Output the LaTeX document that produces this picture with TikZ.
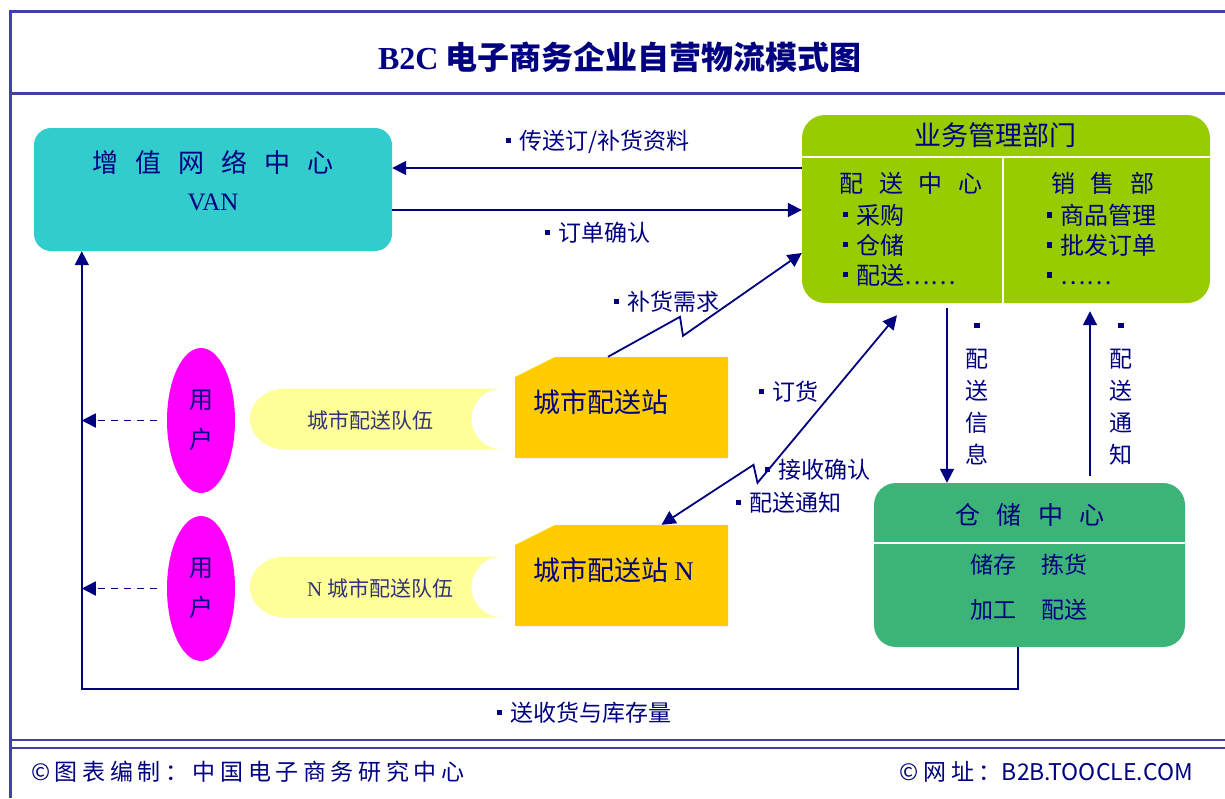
\documentclass[tikz,border=0pt]{standalone}
\usepackage{fontspec}
\usepackage{tikz}
\usetikzlibrary{positioning, arrows.meta, shapes.geometric}
\setmainfont{Liberation Serif}
\newfontfamily\cjk{Noto Sans CJK SC}
\newfontfamily\footFont[LetterSpace=20]{Noto Sans CJK SC}
\definecolor{frameBlue}{RGB}{64,64,168}
\definecolor{textNavy}{RGB}{0,0,128}
\definecolor{crewInk}{RGB}{51,51,120}
\definecolor{vanCyan}{RGB}{51,204,204}
\definecolor{deptGreen}{RGB}{153,204,0}
\definecolor{storeGreen}{RGB}{60,180,120}
\definecolor{stationGold}{RGB}{255,204,0}
\definecolor{crewYellow}{RGB}{255,255,153}
\definecolor{userPink}{RGB}{255,0,255}
\tikzstyle{pixelGrid} = [x = 1pt, y = -1pt]
\tikzstyle{frameLine} = [color=frameBlue, line width=3pt]
\tikzstyle{innerLine} = [color=white, line width=2pt]
\tikzstyle{vanBox} = [fill=vanCyan, rounded corners=17pt, minimum width=358pt, minimum height=123pt, inner sep=0pt]
\tikzstyle{deptBox} = [fill=deptGreen, rounded corners=23pt, minimum width=408pt, minimum height=188pt, inner sep=0pt]
\tikzstyle{storeBox} = [fill=storeGreen, rounded corners=22pt, minimum width=311pt, minimum height=164pt, inner sep=0pt]
\tikzstyle{userBubble} = [ellipse, fill=userPink, minimum width=68pt, minimum height=145pt, inner sep=0pt, text=textNavy, align=center, font=\cjk\fontsize{24}{40}\selectfont]
\tikzstyle{crewStyle} = [fill=crewYellow]
\tikzstyle{stationStyle} = [fill=stationGold]
\tikzstyle{stationArea} = [minimum width=213pt, minimum height=101pt, inner sep=0pt]
\tikzstyle{flowText} = [text=textNavy, inner sep=0pt, font=\cjk\fontsize{23}{23}\selectfont]
\tikzstyle{stackText} = [flowText, align=center, font=\cjk\fontsize{23}{32}\selectfont]
\tikzstyle{boxTitle} = [flowText, font=\cjk\fontsize{26}{26}\selectfont]
\tikzstyle{boxText} = [flowText, font=\cjk\fontsize{24}{30}\selectfont]
\tikzstyle{crewLabel} = [flowText, text=crewInk, font=\cjk\fontsize{21}{21}\selectfont]
\tikzstyle{stationLabel} = [flowText, font=\cjk\fontsize{27}{27}\selectfont]
\tikzstyle{titleText} = [flowText, font=\cjk\bfseries\fontsize{32}{32}\selectfont]
\tikzstyle{footText} = [flowText, font=\footFont\fontsize{23}{23}\selectfont]
\tikzstyle{flowArrow} = [color=textNavy, line width=1.8pt, -{Triangle[length=14pt, width=14pt]}]
\tikzstyle{bothArrow} = [flowArrow, {Triangle[length=14pt, width=14pt]}-{Triangle[length=14pt, width=14pt]}]
\tikzstyle{dashArrow} = [flowArrow, dash pattern=on 7pt off 6pt]
\newcommand{\bul}{\rule[.3em]{.22em}{.22em}\hspace{.35em}}
\newcommand{\cjkGap}{\hspace{.65em}}
\newcommand{\crewBanner}[1]{\fill [crewStyle] (285, #1 - 30.5) -- (502, #1 - 30.5) arc [start angle=270, end angle=90, radius=30.5] -- (285, #1 + 30.5) arc [start angle=90, end angle=270, x radius=35, y radius=30.5] -- cycle;}
\newcommand{\cityStation}[2]{
  \fill [stationStyle] (515, #1 + 20) -- (555, #1) -- (728, #1) -- (728, #1 + 101) -- (515, #1 + 101) -- cycle;
  \node [stationArea] (#2) at (621.5, #1 + 50.5) {};
}

\begin{document}
\begin{tikzpicture}[pixelGrid]
  \fill [white] (0,0) rectangle (1225,798);
  \useasboundingbox (0,0) rectangle (1225,798);

  % frame
  \draw [frameLine] (10,11) -- (1225,11);
  \draw [frameLine] (10,9.5) -- (10,798);
  \draw [frameLine] (10,93) -- (1225,93);
  \draw [frameLine, line width=2.5pt] (10,740) -- (1225,740);
  \draw [frameLine, line width=2.5pt] (10,748) -- (1225,748);
  \node [titleText] (title) at (620,57) {{\rmfamily B2C} 电子商务企业自营物流模式图};

  % value added network
  \node [vanBox] (van) at (213,189.5) {};
  \node [boxTitle] (vanName) at (213,162) {增\cjkGap 值\cjkGap 网\cjkGap 络\cjkGap 中\cjkGap 心};
  \node [flowText, font=\rmfamily\fontsize{25}{25}\selectfont] (vanAbbr) at (213,202) {VAN};

  % business department
  \node [deptBox] (dept) at (1006,209) {};
  \draw [innerLine] ([yshift=-42pt]dept.north west) -- ([yshift=-42pt]dept.north east);
  \draw [innerLine] ([xshift=-3pt, yshift=-42pt]dept.north) -- ([xshift=-3pt]dept.south);
  \node [boxTitle, font=\cjk\fontsize{27}{27}\selectfont] (deptName) at (995,135) {业务管理部门};
  \node [boxText] (distName) at (911,183) {配\cjkGap 送\cjkGap 中\cjkGap 心};
  \node [boxText] (saleName) at (1103,183) {销\cjkGap 售\cjkGap 部};
  \node [boxText, align=left, anchor=west] (distItems) at (843,245) {\bul 采购\\\bul 仓储\\\bul 配送……};
  \node [boxText, align=left, anchor=west] (saleItems) at (1047,245) {\bul 商品管理\\\bul 批发订单\\\bul ……};

  % warehouse
  \node [storeBox] (store) at (1029.5,565) {};
  \draw [innerLine] ([yshift=-60pt]store.north west) -- ([yshift=-60pt]store.north east);
  \node [boxTitle, font=\cjk\fontsize{25}{25}\selectfont] (storeName) at (1030,515) {仓\cjkGap 储\cjkGap 中\cjkGap 心};
  \node [flowText] (storeRowA) at (1029,565) {储存\hspace{1.1em}拣货};
  \node [flowText] (storeRowB) at (1029,610) {加工\hspace{1.1em}配送};

  \coordinate (backLeft) at ([xshift=48pt]van.south west);

  % stations, crews and users
  \foreach \row/\rowY/\crewText/\stationText in {1/419/{城市配送队伍}/{城市配送站}, N/587/{{\rmfamily N} 城市配送队伍}/{城市配送站 {\rmfamily N}}} {
    \node [userBubble] (user\row) at (201, \rowY + 1.5) {用\\户};
    \crewBanner{\rowY}
    \node [crewLabel, anchor=west] (crew\row) at (307, \rowY + 1) {\crewText};
    \cityStation{\rowY - 62}{st\row}
    \node [stationLabel, anchor=west] (stText\row) at (533, \rowY - 17) {\stationText};
    \draw [dashArrow] ([xshift=-10pt]user\row.west) -- (user\row.west -| backLeft);
  }

  % flows
  \coordinate (sendRow) at ([yshift=21.5pt]van.east);
  \coordinate (confirmRow) at ([yshift=-20.5pt]van.east);
  \draw [flowArrow] (dept.west |- sendRow) -- (sendRow);
  \draw [flowArrow] (confirmRow) -- (dept.west |- confirmRow);
  \draw [flowArrow] ([xshift=-13.5pt]st1.north) -- ++(72,-40) -- ++(3,19) -- ([yshift=-44pt]dept.west);
  \draw [bothArrow] ([xshift=40pt]stN.north) -- ++(92,-60) -- ++(4,18) -- ([xshift=-109pt, yshift=-12pt]dept.south);
  \draw [flowArrow] ([xshift=-59pt, yshift=-5pt]dept.south) -- ([xshift=-82.5pt]store.north);
  \draw [flowArrow] ([xshift=60.5pt, yshift=7pt]store.north) -- ([xshift=84pt, yshift=-8pt]dept.south);
  \draw [flowArrow] ([xshift=-11.5pt]store.south) -- ++(0,42) -| (backLeft);

  \node [flowText, anchor=west] (sendText) at (506,142) {\bul 传送订/补货资料};
  \node [flowText, anchor=west] (confirmText) at (545,233) {\bul 订单确认};
  \node [flowText, anchor=west] (replText) at (614,302) {\bul 补货需求};
  \node [flowText, anchor=west] (orderText) at (759,392) {\bul 订货};
  \node [flowText, anchor=west] (ackText) at (765,470) {\bul 接收确认};
  \node [flowText, anchor=west] (notifyText) at (736,503) {\bul 配送通知};
  \node [flowText, anchor=west] (stockText) at (497,713) {\bul 送收货与库存量};
  \node [stackText] (infoText) at (977,394) {\rule[.3em]{.22em}{.22em}\\配\\送\\信\\息};
  \node [stackText] (noticeText) at (1121,394) {\rule[.3em]{.22em}{.22em}\\配\\送\\通\\知};

  % footer
  \node [footText, anchor=west] (credit) at (31,772) {©图表编制：中国电子商务研究中心};
  \node [footText, anchor=east] (site) at (1193,772) {©网址：{\cjk\fontsize{23}{23}\selectfont B2B.TOOCLE.COM}};
\end{tikzpicture}
\end{document}
